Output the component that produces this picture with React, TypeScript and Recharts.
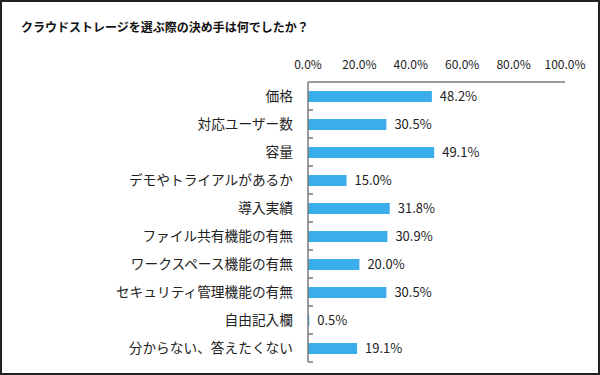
import React from "react";
import { BarChart, Bar, XAxis, YAxis, LabelList } from "recharts";

const categories = [
  "価格",
  "対応ユーザー数",
  "容量",
  "デモやトライアルがあるか",
  "導入実績",
  "ファイル共有機能の有無",
  "ワークスペース機能の有無",
  "セキュリティ管理機能の有無",
  "自由記入欄",
  "分からない、答えたくない",
];
const values = [48.2, 30.5, 49.1, 15.0, 31.8, 30.9, 20.0, 30.5, 0.5, 19.1];
const xTicks = [0, 20, 40, 60, 80, 100];

const data = categories.map((name, i) => ({ name, value: values[i] }));

const FONT = "'Noto Sans CJK JP', 'Noto Sans', sans-serif";
const BLUE = "#3BADEA";
const AXIS = "#7a7a7a";

const MARGIN = { top: 52, right: 35, bottom: 13, left: 8 };
const X_AXIS_H = 30;
const TICK_GAP = 15; // tickSize + tickMargin of the category axis
const plotH = 375 - MARGIN.top - MARGIN.bottom - X_AXIS_H;
const halfBand = plotH / categories.length / 2;

// category label plus a small tick mark at the boundary below the row
function CatTick(props: any) {
  const { x, y, payload } = props;
  const axisX = x + TICK_GAP;
  return (
    <g>
      <text
        x={x}
        y={y}
        dy="0.35em"
        textAnchor="end"
        fill="#222"
        fontSize={13.7}
        fontFamily={FONT}
      >
        {payload.value}
      </text>
      <line
        x1={axisX}
        x2={axisX + 5}
        y1={y + halfBand}
        y2={y + halfBand}
        stroke={AXIS}
        strokeWidth={1.5}
      />
    </g>
  );
}

export default function App() {
  return (
    <div
      style={{
        position: "absolute",
        top: 0,
        left: 0,
        width: 600,
        height: 375,
        background: "#fff",
        fontFamily: FONT,
      }}
    >
      <div
        style={{
          position: "absolute",
          left: 21,
          top: 18,
          fontSize: 12,
          fontWeight: 700,
          color: "#111",
          whiteSpace: "nowrap",
        }}
      >
        クラウドストレージを選ぶ際の決め手は何でしたか？
      </div>
      <div style={{ position: "absolute", top: 0, left: 0 }}>
        <BarChart
          width={600}
          height={375}
          data={data}
          layout="vertical"
          margin={MARGIN}
        >
          <XAxis
            type="number"
            orientation="top"
            domain={[0, 100]}
            ticks={xTicks}
            tickFormatter={(v: number) => v.toFixed(1) + "%"}
            tickLine={false}
            tickSize={6}
            tickMargin={7}
            stroke={AXIS}
            axisLine={{ stroke: AXIS, strokeWidth: 1.5 }}
            tick={{ fill: "#222", fontSize: 12, fontFamily: FONT }}
            height={X_AXIS_H}
          />
          <YAxis
            type="category"
            dataKey="name"
            width={300}
            tickLine={false}
            stroke={AXIS}
            axisLine={{ stroke: AXIS, strokeWidth: 1.5 }}
            tickSize={6}
            tickMargin={9}
            tick={<CatTick />}
          />
          <Bar
            dataKey="value"
            fill={BLUE}
            barSize={11}
            isAnimationActive={false}
          >
            <LabelList
              dataKey="value"
              position="right"
              offset={8}
              formatter={(v: number) => v.toFixed(1) + "%"}
              style={{ fill: "#222", fontSize: 13, fontFamily: FONT }}
            />
          </Bar>
        </BarChart>
      </div>
      <div
        style={{
          position: "absolute",
          inset: 0,
          border: "2px solid #222",
          pointerEvents: "none",
        }}
      />
    </div>
  );
}
